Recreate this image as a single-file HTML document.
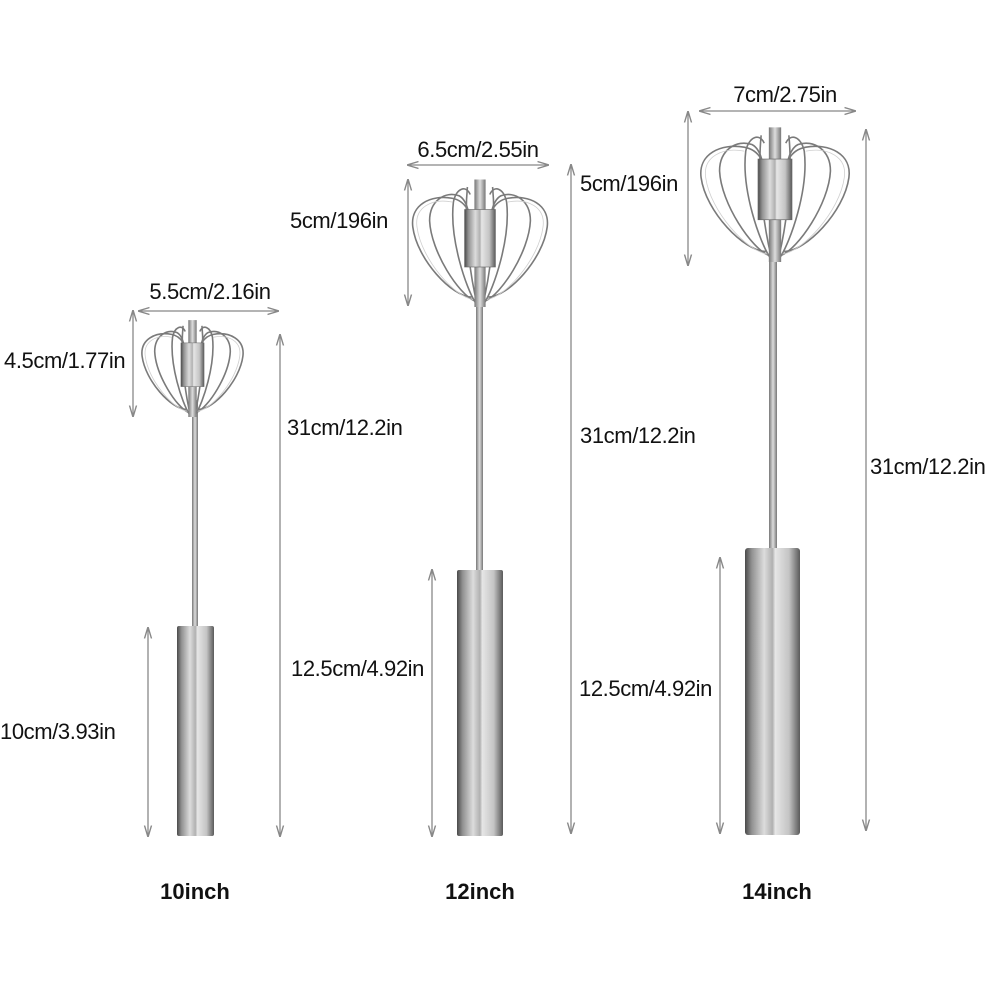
<!DOCTYPE html>
<html><head><meta charset="utf-8"><style>
html,body{margin:0;padding:0;background:#fff;}
svg{display:block}
text{font-family:"Liberation Sans",sans-serif;fill:#111}
.l{font-size:22px;letter-spacing:-0.4px}
.b{font-size:22px;font-weight:bold}
.dim{stroke:#888;stroke-width:1.3;fill:none}
.w{fill:none;stroke:#7a7a7a;stroke-width:1.6;vector-effect:non-scaling-stroke}
.w2{fill:none;stroke:#cfcfcf;stroke-width:0.8;vector-effect:non-scaling-stroke}
</style></head><body>
<svg width="1000" height="1000" viewBox="0 0 1000 1000" xmlns="http://www.w3.org/2000/svg">
<defs>
<linearGradient id="hg" x1="0" x2="1" y1="0" y2="0">
<stop offset="0" stop-color="#4a4a4a"/><stop offset="0.12" stop-color="#909090"/>
<stop offset="0.35" stop-color="#dcdcdc"/><stop offset="0.5" stop-color="#b0b0b0"/>
<stop offset="0.55" stop-color="#e6e6e6"/><stop offset="0.8" stop-color="#c4c4c4"/>
<stop offset="1" stop-color="#5a5a5a"/></linearGradient>
<linearGradient id="rg" x1="0" x2="1"><stop offset="0" stop-color="#777"/><stop offset="0.5" stop-color="#ddd"/><stop offset="1" stop-color="#777"/></linearGradient>
<g id="half">
<path class="w" d="M44,92 C30,92 5,62 2,36 C0,18 15,10 30,13 C40,15 44,25 45,40"/>
<path class="w" d="M46,95 C35,90 15,56 14,31 C14,15 25,7 35,11 C42,15 43,30 44,45"/>
<path class="w" d="M47,97 C40,85 28,45 31,16 C33,5 40,2 43,10"/>
<path class="w" d="M48,98 C44,80 38,40 41,4"/>
<path class="w2" d="M45,94 C32,92 8,62 5,36 C3,20 16,13 30,16"/>
</g>
<g id="head">
<use href="#half"/>
<use href="#half" transform="translate(100,0) scale(-1,1)"/>
<rect x="46" y="-2" width="8" height="102" fill="url(#rg)"/>
<rect x="39" y="22" width="22" height="46" fill="url(#hg)" stroke="#666" stroke-width="0.5"/>
</g>
<marker id="ar" viewBox="0 0 10 10" refX="9" refY="5" markerWidth="9" markerHeight="9" orient="auto-start-reverse"><path d="M0,2 L10,5 L0,8" fill="none" stroke="#888" stroke-width="1.2"/></marker>
</defs>

<!-- whisk 1 -->
<rect x="192" y="400" width="6" height="228" fill="url(#rg)"/>
<use href="#head" transform="translate(140,322) scale(1.05,0.95)"/>
<rect x="177" y="626" width="37" height="210" rx="2" fill="url(#hg)"/>
<line class="dim" x1="139" y1="311" x2="278" y2="311" marker-start="url(#ar)" marker-end="url(#ar)"/>
<line class="dim" x1="133" y1="311" x2="133" y2="416" marker-start="url(#ar)" marker-end="url(#ar)"/>
<line class="dim" x1="280" y1="335" x2="280" y2="836" marker-start="url(#ar)" marker-end="url(#ar)"/>
<line class="dim" x1="148" y1="628" x2="148" y2="836" marker-start="url(#ar)" marker-end="url(#ar)"/>
<text class="l" x="210" y="299" text-anchor="middle">5.5cm/2.16in</text>
<text class="l" x="4" y="368">4.5cm/1.77in</text>
<text class="l" x="287" y="435">31cm/12.2in</text>
<text class="l" x="0" y="739">10cm/3.93in</text>
<text class="b" x="195" y="899" text-anchor="middle">10inch</text>

<!-- whisk 2 -->
<rect x="476" y="290" width="7" height="282" fill="url(#rg)"/>
<use href="#head" transform="translate(410,182) scale(1.4,1.25)"/>
<rect x="457" y="570" width="46" height="266" rx="2" fill="url(#hg)"/>
<line class="dim" x1="408" y1="165" x2="548" y2="165" marker-start="url(#ar)" marker-end="url(#ar)"/>
<line class="dim" x1="408" y1="180" x2="408" y2="305" marker-start="url(#ar)" marker-end="url(#ar)"/>
<line class="dim" x1="571" y1="165" x2="571" y2="833" marker-start="url(#ar)" marker-end="url(#ar)"/>
<line class="dim" x1="432" y1="570" x2="432" y2="836" marker-start="url(#ar)" marker-end="url(#ar)"/>
<text class="l" x="478" y="157" text-anchor="middle">6.5cm/2.55in</text>
<text class="l" x="290" y="228">5cm/196in</text>
<text class="l" x="580" y="443">31cm/12.2in</text>
<text class="l" x="291" y="676">12.5cm/4.92in</text>
<text class="b" x="480" y="899" text-anchor="middle">12inch</text>

<!-- whisk 3 -->
<rect x="769" y="250" width="8" height="300" fill="url(#rg)"/>
<use href="#head" transform="translate(698,130) scale(1.54,1.32)"/>
<rect x="745" y="548" width="55" height="287" rx="3" fill="url(#hg)"/>
<line class="dim" x1="700" y1="111" x2="855" y2="111" marker-start="url(#ar)" marker-end="url(#ar)"/>
<line class="dim" x1="688" y1="112" x2="688" y2="265" marker-start="url(#ar)" marker-end="url(#ar)"/>
<line class="dim" x1="866" y1="130" x2="866" y2="830" marker-start="url(#ar)" marker-end="url(#ar)"/>
<line class="dim" x1="720" y1="558" x2="720" y2="833" marker-start="url(#ar)" marker-end="url(#ar)"/>
<text class="l" x="785" y="102" text-anchor="middle">7cm/2.75in</text>
<text class="l" x="580" y="191">5cm/196in</text>
<text class="l" x="870" y="474">31cm/12.2in</text>
<text class="l" x="579" y="696">12.5cm/4.92in</text>
<text class="b" x="777" y="899" text-anchor="middle">14inch</text>
</svg>
</body></html>
